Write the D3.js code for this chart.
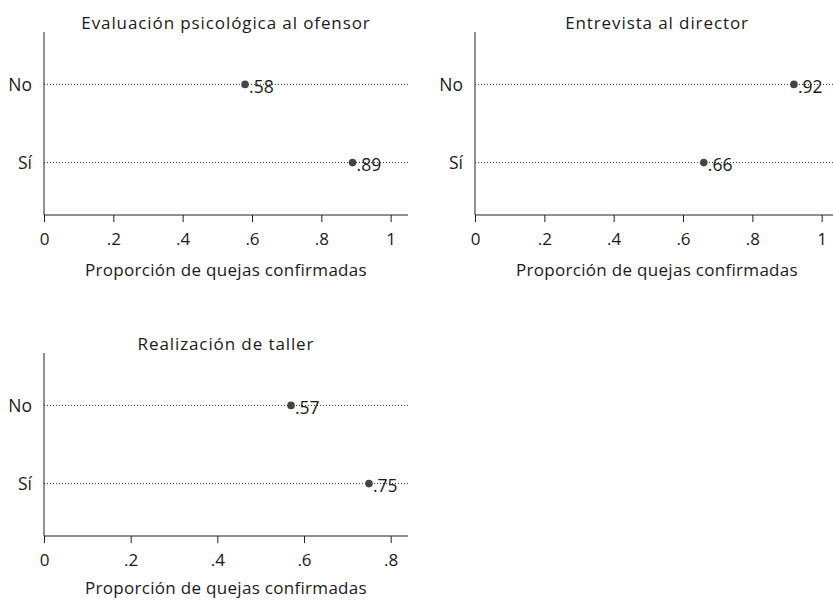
<!DOCTYPE html>
<html>
<head>
<meta charset="utf-8">
<script src="https://d3js.org/d3.v7.min.js"></script>
<style>
  body { margin: 0; background: #fff; }
  text { font-family: "Open Sans", "Noto Sans", sans-serif; fill: #1a1a1a; }
</style>
</head>
<body>
<svg></svg>
<script>
    // data
    const categories = ["No", "Sí"];
    const titles = ["Evaluación psicológica al ofensor", "Entrevista al director", "Realización de taller"];
    const valuesEval = [0.58, 0.89];
    const valuesEntrevista = [0.92, 0.66];
    const valuesTaller = [0.57, 0.75];
    const xMax = [1.05, 1.05, 0.84];
    const tickValues = [[0, 0.2, 0.4, 0.6, 0.8, 1], [0, 0.2, 0.4, 0.6, 0.8, 1], [0, 0.2, 0.4, 0.6, 0.8]];
    const xTitle = "Proporción de quejas confirmadas";

    const panels = [
        {title: titles[0], values: valuesEval, max: xMax[0], ticks: tickValues[0], x0: 44, y0: 0},
        {title: titles[1], values: valuesEntrevista, max: xMax[1], ticks: tickValues[1], x0: 475, y0: 0},
        {title: titles[2], values: valuesTaller, max: xMax[2], ticks: tickValues[2], x0: 44, y0: 321}
    ];

    const plotW = 364;
    const plotTop = 32, plotBottom = 215;

    const svg = d3.select("svg")
        .attr("width", 833)
        .attr("height", 600);

    const fmt = v => d3.format(".2f")(v).replace(/^0/, "");

    panels.forEach(p => {
        const g = svg.append("g")
            .attr("transform", `translate(${p.x0}, ${p.y0})`);

        const x = d3.scaleLinear()
            .domain([0, p.max])
            .range([0, plotW]);

        const y = d3.scalePoint()
            .domain(categories)
            .range([plotTop, plotBottom])
            .padding(0.67);

        // dotted guide lines
        g.selectAll("line.guide")
            .data(categories)
            .join("line")
            .attr("class", "guide")
            .attr("x1", 0)
            .attr("x2", plotW)
            .attr("y1", d => y(d))
            .attr("y2", d => y(d))
            .attr("stroke", "#333")
            .attr("stroke-width", 1)
            .attr("stroke-dasharray", "1,2");

        // x axis
        const xAxis = g.append("g")
            .attr("transform", `translate(0, ${plotBottom})`)
            .call(d3.axisBottom(x).tickValues(p.ticks).tickSize(7).tickPadding(11)
                .tickFormat(d => d === 0 ? "0" : d === 1 ? "1" : fmt(d).replace(/0$/, "")));
        xAxis.select(".domain").attr("d", `M0,0H${plotW}`).attr("stroke", "#222");
        xAxis.selectAll(".tick line").attr("stroke", "#222");
        xAxis.selectAll("text").style("font-size", "17px").attr("fill", "#1a1a1a");

        // y axis line
        g.append("line")
            .attr("x1", 0).attr("x2", 0)
            .attr("y1", plotTop).attr("y2", plotBottom)
            .attr("stroke", "#222");

        // category labels
        g.selectAll("text.cat")
            .data(categories)
            .join("text")
            .attr("class", "cat")
            .attr("x", -12)
            .attr("y", d => y(d))
            .attr("dy", "0.35em")
            .attr("text-anchor", "end")
            .style("font-size", "17.5px")
            .text(d => d);

        // points
        g.selectAll("circle")
            .data(p.values)
            .join("circle")
            .attr("cx", d => x(d))
            .attr("cy", (d, i) => y(categories[i]))
            .attr("r", 3.8)
            .attr("fill", "#444");

        // value labels
        g.selectAll("text.val")
            .data(p.values)
            .join("text")
            .attr("class", "val")
            .attr("x", d => x(d) + 4)
            .attr("y", (d, i) => y(categories[i]) + 2)
            .attr("dy", "0.35em")
            .style("font-size", "17.5px")
            .text(d => fmt(d));

        // title
        g.append("text")
            .attr("x", plotW / 2)
            .attr("y", 29)
            .attr("text-anchor", "middle")
            .style("font-size", "17px")
            .style("font-weight", 500)
            .style("letter-spacing", "0.9px")
            .text(p.title);

        // x title
        g.append("text")
            .attr("x", plotW / 2)
            .attr("y", p.y0 > 0 ? 273 : 276)
            .attr("text-anchor", "middle")
            .style("font-size", "17px")
            .style("letter-spacing", "0.3px")
            .text(xTitle);
    });
</script>
</body>
</html>
